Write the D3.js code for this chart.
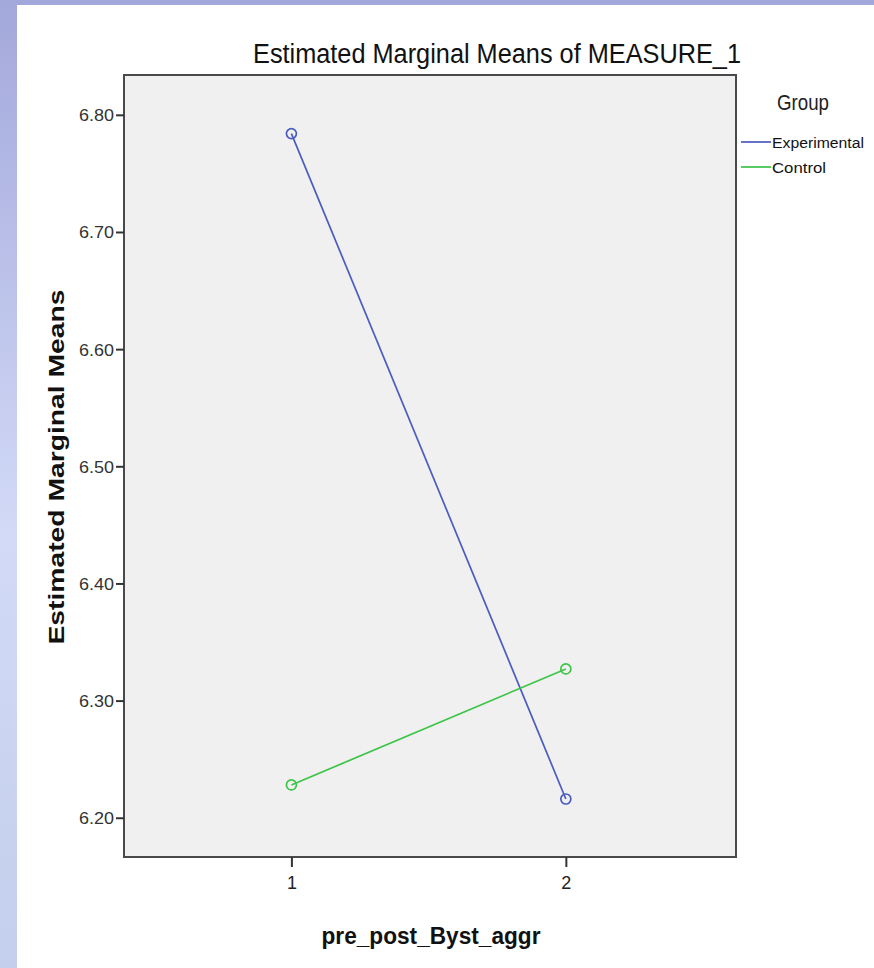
<!DOCTYPE html>
<html><head><meta charset="utf-8">
<script src="https://cdn.jsdelivr.net/npm/d3@7"></script>
<style>html,body{margin:0;padding:0;background:#fff;}svg{display:block;}</style>
</head><body>
<script>
const categories = [1, 2];
const seriesNames = ["Experimental", "Control"];
const experimental = [6.784, 6.216];
const control = [6.228, 6.327];
const yTicks = [6.20, 6.30, 6.40, 6.50, 6.60, 6.70, 6.80];
const colors = ["#4a5cc0", "#3cc447"];

const W = 874, H = 968;
const FONT = "Liberation Sans, Arial, sans-serif";
const svg = d3.select("body").append("svg").attr("width", W).attr("height", H);

// page background decoration
const defs = svg.append("defs");
const lg = defs.append("linearGradient").attr("id", "side").attr("x1", 0).attr("y1", 0).attr("x2", 0).attr("y2", 1);
lg.append("stop").attr("offset", "0%").attr("stop-color", "#a3a8db");
lg.append("stop").attr("offset", "55%").attr("stop-color", "#d2daf7");
lg.append("stop").attr("offset", "100%").attr("stop-color", "#c3cfec");
svg.append("rect").attr("x", 0).attr("y", 0).attr("width", W).attr("height", 5).attr("fill", "#a3a8db");
svg.append("rect").attr("x", 0).attr("y", 0).attr("width", 17).attr("height", H).attr("fill", "url(#side)");

const L = 124, R = 736, T = 75, B = 857;
const x = d3.scaleLinear().domain([0.39, 2.62]).range([L, R]);
const y = d3.scaleLinear().domain([6.1665, 6.834]).range([B, T]);

svg.append("rect").attr("x", L).attr("y", T).attr("width", R - L).attr("height", B - T)
  .attr("fill", "#f0f0f0").attr("stroke", "#4a4a4a").attr("stroke-width", 2);

// y axis
const yAxis = d3.axisLeft(y).tickValues(yTicks).tickFormat(d3.format(".2f")).tickSize(8).tickSizeOuter(0);
const gy = svg.append("g").attr("transform", `translate(${L},0)`).call(yAxis);
gy.select(".domain").remove();
gy.selectAll(".tick line").attr("stroke", "#333").attr("stroke-width", 2);
gy.selectAll(".tick text").attr("font-family", FONT).attr("font-size", 17)
  .attr("fill", "#333").attr("x", -10).attr("dy", "0.35em")
  .attr("textLength", 35).attr("lengthAdjust", "spacingAndGlyphs");

// x axis
const xAxis = d3.axisBottom(x).tickValues(categories).tickFormat(d3.format("d")).tickSize(10).tickSizeOuter(0);
const gx = svg.append("g").attr("transform", `translate(0,${B})`).call(xAxis);
gx.select(".domain").remove();
gx.selectAll(".tick line").attr("stroke", "#333").attr("stroke-width", 2);
gx.selectAll(".tick text").attr("font-family", FONT).attr("font-size", 18)
  .attr("fill", "#222").attr("y", 19);

// series
const series = [experimental, control];
const line = d3.line().x((d, i) => x(categories[i])).y(d => y(d));
series.forEach((s, k) => {
  svg.append("path").datum(s).attr("d", line).attr("fill", "none")
    .attr("stroke", colors[k]).attr("stroke-width", 1.7);
  svg.selectAll(null).data(s).enter().append("circle")
    .attr("cx", (d, i) => x(categories[i])).attr("cy", d => y(d)).attr("r", 5)
    .attr("fill", "none").attr("stroke", colors[k]).attr("stroke-width", 1.7);
});

// title
svg.append("text").attr("x", 253).attr("y", 63).text("Estimated Marginal Means of MEASURE_1")
  .attr("font-family", FONT).attr("font-size", 27).attr("fill", "#111")
  .attr("textLength", 488).attr("lengthAdjust", "spacingAndGlyphs");

// axis titles
svg.append("text").attr("transform", "translate(64,467) rotate(-90)").attr("text-anchor", "middle")
  .text("Estimated Marginal Means").attr("font-family", FONT)
  .attr("font-weight", "bold").attr("font-size", 22).attr("fill", "#111")
  .attr("textLength", 355).attr("lengthAdjust", "spacingAndGlyphs");
svg.append("text").attr("x", 431).attr("y", 944).attr("text-anchor", "middle")
  .text("pre_post_Byst_aggr").attr("font-family", FONT)
  .attr("font-weight", "bold").attr("font-size", 23).attr("fill", "#111")
  .attr("textLength", 219).attr("lengthAdjust", "spacingAndGlyphs");

// legend
svg.append("text").attr("x", 777).attr("y", 110).text("Group")
  .attr("font-family", FONT).attr("font-size", 22).attr("fill", "#222")
  .attr("textLength", 52).attr("lengthAdjust", "spacingAndGlyphs");
seriesNames.forEach((n, k) => {
  const yy = 142 + k * 25;
  svg.append("line").attr("x1", 741).attr("x2", 771).attr("y1", yy).attr("y2", yy)
    .attr("stroke", colors[k]).attr("stroke-width", 1.7);
  svg.append("text").attr("x", 772).attr("y", yy + 6).text(n)
    .attr("font-family", FONT).attr("font-size", 15.5).attr("fill", "#111")
    .attr("textLength", k === 0 ? 92 : 54).attr("lengthAdjust", "spacingAndGlyphs");
});
</script>
</body></html>
